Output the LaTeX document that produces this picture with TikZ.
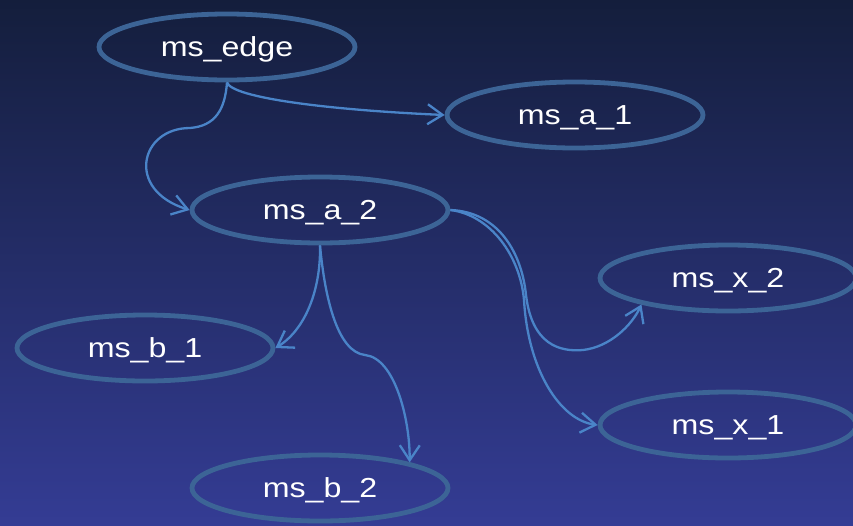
\documentclass[tikz,border=0pt]{standalone}
\usepackage{fontspec}
\setmainfont{Liberation Sans}
\newfontfamily\lblfont[FakeStretch=1.17]{Liberation Sans}
\usetikzlibrary{shapes.geometric,arrows.meta}
\definecolor{bgtop}{RGB}{20,30,60}
\definecolor{bgbot}{RGB}{52,60,148}
\definecolor{ellcol}{RGB}{60,100,150}
\definecolor{arrcol}{RGB}{74,132,200}
\begin{document}
\begin{tikzpicture}[x=1pt,y=1pt,
  svc/.style={ellipse, draw=ellcol, line width=4.8pt, minimum width=256pt,
    minimum height=66pt, inner sep=0pt, text=white,
    text height=19.8pt, text depth=0pt,
    font=\lblfont\fontsize{27.5}{32}\selectfont},
  link/.style={draw=arrcol, line width=2.3pt,
    -{Straight Barb[length=15pt,width=20pt]}}]
\useasboundingbox (0,0) rectangle (853,-525);
\shade[top color=bgtop, bottom color=bgbot] (0,0) rectangle (853,-525);

\node[svc] (e)  at (227,-47)  {ms\_edge};
\node[svc] (a1) at (575,-115) {ms\_a\_1};
\node[svc] (a2) at (320,-210) {ms\_a\_2};
\node[svc] (x2) at (728,-278) {ms\_x\_2};
\node[svc] (x1) at (728,-425) {ms\_x\_1};
\node[svc] (b1) at (145,-348) {ms\_b\_1};
\node[svc] (b2) at (320,-488) {ms\_b\_2};

\draw[link] (e.south) .. controls (232,-98) and (330,-110) .. (a1.west);
\draw[link] (e.south) .. controls (225,-110) and (215,-126) .. (190,-128)
  .. controls (140,-128) and (125,-190) .. (a2.west);
\draw[link] (a2.east) .. controls (500,-212) and (522,-255) .. (526,-295)
  .. controls (532,-345) and (560,-352) .. (583,-350)
  .. controls (610,-347) and (632,-325) .. (x2.197);
\draw[link] (a2.east) .. controls (490,-215) and (520,-255) .. (524,-300)
  .. controls (528,-370) and (560,-420) .. (x1.west);
\draw[link] (a2.south) .. controls (321,-290) and (305,-330) .. (b1.east);
\draw[link] (a2.south) .. controls (325,-300) and (338,-352) .. (365,-355)
  .. controls (395,-358) and (410,-420) .. (b2.16);
\end{tikzpicture}
\end{document}
